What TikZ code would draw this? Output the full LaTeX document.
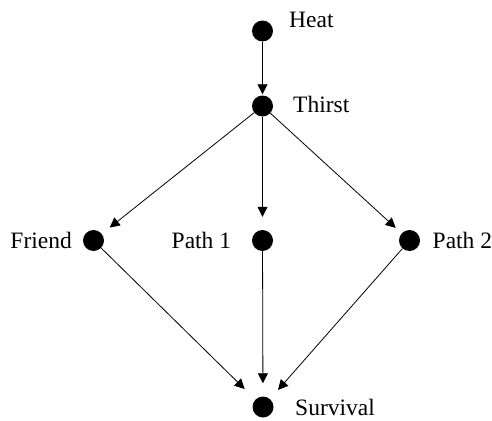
\documentclass[tikz,border=0pt]{standalone}
\usepackage{fontspec}
\setmainfont{Liberation Serif}
\usetikzlibrary{arrows.meta}
\begin{document}
\begin{tikzpicture}[x=1pt,y=-1pt,
  dot/.style={circle,fill=black,inner sep=0pt,minimum size=21pt},
  lbl/.style={font=\fontsize{23.5}{25}\selectfont,inner sep=0pt},
  edge/.style={-{Triangle[length=10pt,width=10pt]},line width=0.8pt}]
\useasboundingbox (0,0) rectangle (492,420);
\node[dot] (heat) at (262.5,31) {};
\node[dot] (thirst) at (262.5,106) {};
\node[dot] (friend) at (93.5,240.5) {};
\node[dot] (path1) at (262.5,240.5) {};
\node[dot] (path2) at (409.5,240.5) {};
\node[dot] (surv) at (263,407) {};
\node[lbl,anchor=base west] (theat) at (289,28) {Heat};
\node[lbl,anchor=base west] (tthirst) at (293,112) {Thirst};
\node[lbl,anchor=base east] (tfriend) at (72,248) {Friend};
\node[lbl,anchor=base west] (tpath1) at (171.5,248) {Path 1};
\node[lbl,anchor=base west] (tpath2) at (432.5,248) {Path 2};
\node[lbl,anchor=base west] (tsurv) at (295,415.5) {Survival};
\draw[edge,shorten >=1pt] (heat) -- (thirst);
\draw[edge,shorten >=10pt] (thirst) -- (friend);
\draw[edge,shorten >=13pt] (thirst) -- (path1);
\draw[edge,shorten >=8pt] (thirst) -- (path2);
\draw[edge,shorten >=15pt] (friend) -- (surv);
\draw[edge,shorten >=13pt] (path1) -- (surv);
\draw[edge,shorten >=12pt] (path2) -- (surv);
\end{tikzpicture}
\end{document}
